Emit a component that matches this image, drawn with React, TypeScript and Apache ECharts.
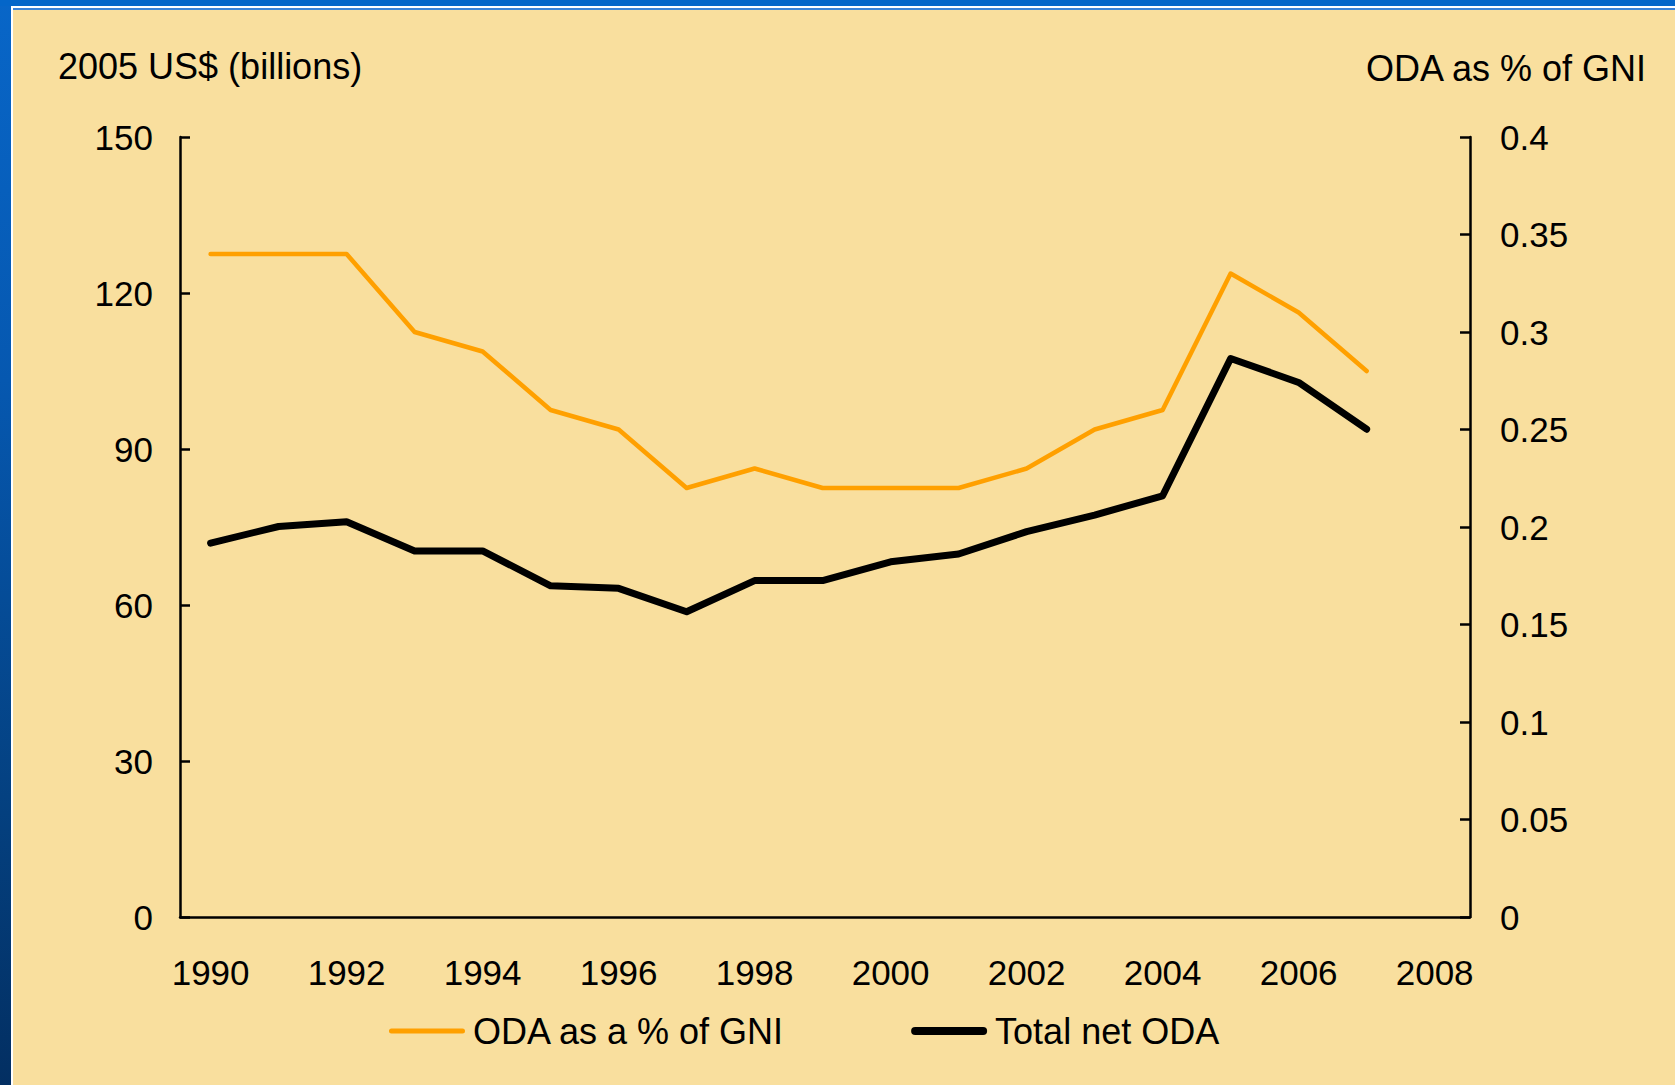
import React, { useEffect, useRef } from "react";
import * as echarts from "echarts";

const years = [1990, 1991, 1992, 1993, 1994, 1995, 1996, 1997, 1998, 1999, 2000, 2001, 2002, 2003, 2004, 2005, 2006, 2007];
const odaPctGni = [0.34, 0.34, 0.34, 0.30, 0.29, 0.26, 0.25, 0.22, 0.23, 0.22, 0.22, 0.22, 0.23, 0.25, 0.26, 0.33, 0.31, 0.28];
const totalNetOda = [71.9, 75.1, 76.0, 70.4, 70.4, 63.7, 63.2, 58.7, 64.7, 64.7, 68.3, 69.8, 74.1, 77.3, 81.0, 107.4, 102.8, 93.8];
const xTickLabels = [1990, 1992, 1994, 1996, 1998, 2000, 2002, 2004, 2006, 2008];

const FONT = "'Liberation Sans', Arial, Helvetica, sans-serif";

const ORANGE = "#FFA000";
const BLACK = "#000000";

export default function App() {
  const ref = useRef<HTMLDivElement>(null);

  useEffect(() => {
    if (!ref.current) return;
    const chart = echarts.init(ref.current, undefined, { renderer: "svg" });
    const axisLineStyle = { color: "#000", width: 2.5 };
    chart.setOption({
      animation: false,
      backgroundColor: "transparent",
      textStyle: { fontFamily: FONT },
      grid: { left: 180, top: 137, right: 205, bottom: 168, containLabel: false },
      xAxis: {
        type: "value",
        min: 1989.55,
        max: 2008.52,
        axisLine: { show: true, lineStyle: axisLineStyle },
        axisTick: { show: false },
        splitLine: { show: false },
        axisLabel: {
          customValues: xTickLabels,
          fontSize: 35,
          color: "#000",
          fontFamily: FONT,
          margin: 38,
          formatter: (v: number) => String(v),
        },
      },
      yAxis: [
        {
          type: "value",
          position: "left",
          min: 0,
          max: 150,
          interval: 30,
          axisLine: { show: true, lineStyle: axisLineStyle },
          axisTick: { show: true, inside: true, length: 10, lineStyle: axisLineStyle },
          splitLine: { show: false },
          axisLabel: { fontSize: 35, color: "#000", fontFamily: FONT, margin: 27 },
        },
        {
          type: "value",
          position: "right",
          min: 0,
          max: 0.4,
          interval: 0.05,
          axisLine: { show: true, lineStyle: axisLineStyle },
          axisTick: { show: true, inside: true, length: 10, lineStyle: axisLineStyle },
          splitLine: { show: false },
          axisLabel: { fontSize: 35, color: "#000", fontFamily: FONT, margin: 30 },
        },
      ],
      legend: {
        left: 384,
        top: 1008,
        itemWidth: 76,
        itemHeight: 14,
        itemGap: 126,
        symbolKeepAspect: true,
        textStyle: { fontSize: 36, color: "#000", fontFamily: FONT, padding: [0, 0, 0, 3] },
        data: [
          {
            name: "ODA as a % of GNI",
            icon: "path://M2.5,0H73.5A2.5,2.5,0,0,1,73.5,5H2.5A2.5,2.5,0,0,1,2.5,0Z",
            itemStyle: { color: ORANGE },
          },
          {
            name: "Total net ODA",
            icon: "path://M4,0H72A4,4,0,0,1,72,8H4A4,4,0,0,1,4,0Z",
            itemStyle: { color: BLACK },
          },
        ],
      },
      series: [
        {
          name: "ODA as a % of GNI",
          type: "line",
          yAxisIndex: 1,
          data: years.map((y, i) => [y, odaPctGni[i]]),
          symbol: "none",
          lineStyle: { color: ORANGE, width: 4.5, cap: "round", join: "round" },
          itemStyle: { color: ORANGE },
        },
        {
          name: "Total net ODA",
          type: "line",
          yAxisIndex: 0,
          data: years.map((y, i) => [y, totalNetOda[i]]),
          symbol: "none",
          lineStyle: { color: BLACK, width: 7, cap: "round", join: "round" },
          itemStyle: { color: BLACK },
        },
      ],
      graphic: [
        {
          type: "text",
          style: {
            x: 58,
            y: 48,
            text: "2005 US$ (billions)",
            fontSize: 36,
            fontFamily: FONT,
            fill: "#000",
            textAlign: "left",
            textVerticalAlign: "top",
          },
        },
        {
          type: "text",
          style: {
            x: 1646,
            y: 50,
            text: "ODA as % of GNI",
            fontSize: 36,
            fontFamily: FONT,
            fill: "#000",
            textAlign: "right",
            textVerticalAlign: "top",
          },
        },
      ],
    });
    return () => chart.dispose();
  }, []);

  return (
    <div
      style={{
        position: "fixed",
        left: 0,
        top: 0,
        width: 1675,
        height: 1085,
        overflow: "hidden",
        background: "linear-gradient(180deg, #0866c8 0%, #0658b0 35%, #04407f 75%, #032f62 100%)",
      }}
    >
      <div style={{ position: "absolute", left: 0, top: 0, right: 0, height: 6, background: "#0466c9" }} />
      <div style={{ position: "absolute", left: 11, top: 6, right: 0, height: 2, background: "#ffffff" }} />
      <div style={{ position: "absolute", left: 11, top: 6, width: 2, bottom: 0, background: "#ffffff" }} />
      <div style={{ position: "absolute", left: 13, top: 8, right: 0, height: 2, background: "#3b82d6" }} />
      <div style={{ position: "absolute", left: 13, top: 10, right: 0, bottom: 0, background: "#F9DF9E" }} />
      <div ref={ref} style={{ position: "absolute", left: 0, top: 0, width: 1675, height: 1085 }} />
    </div>
  );
}
